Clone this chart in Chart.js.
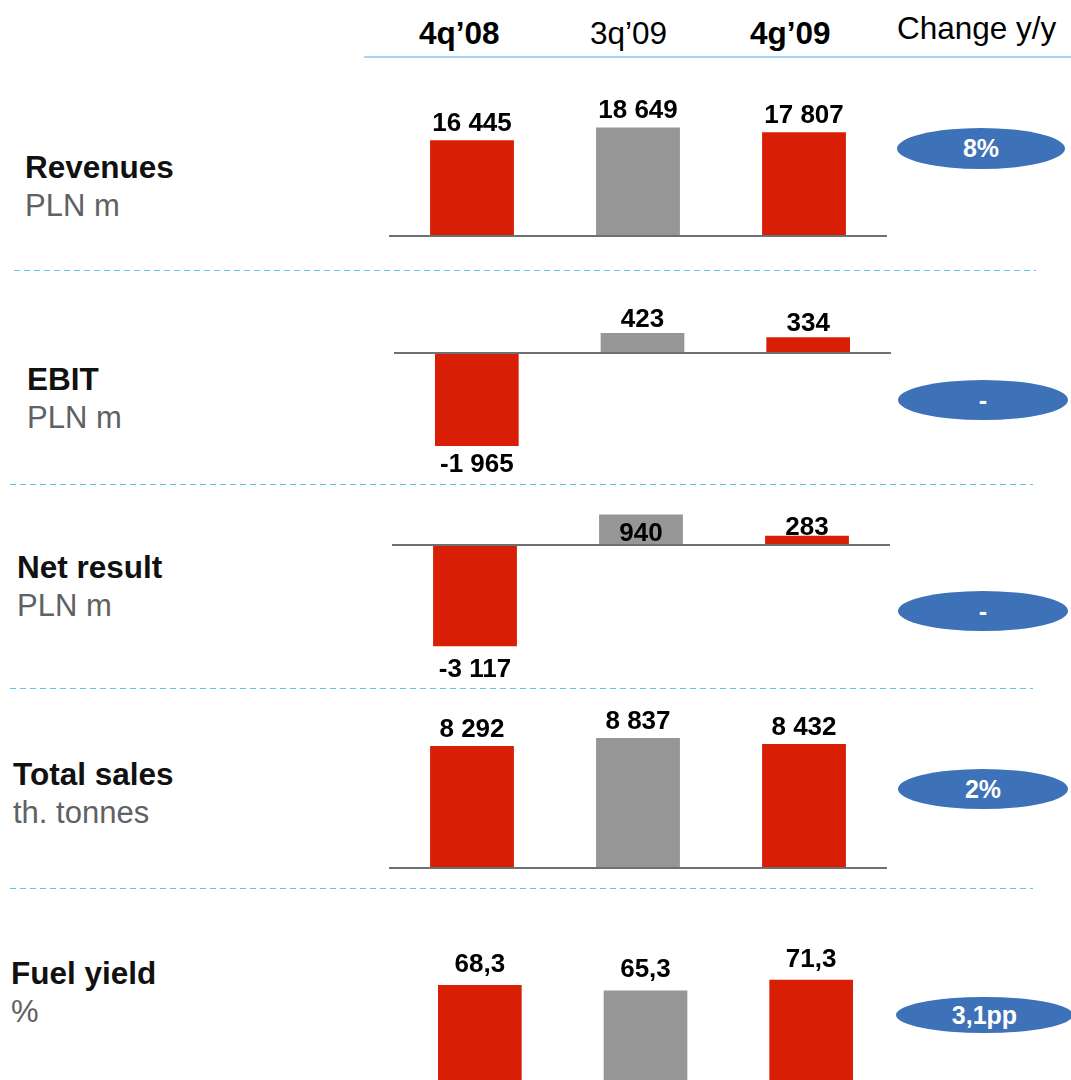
<!DOCTYPE html>
<html>
<head>
<meta charset="utf-8">
<script src="https://cdn.jsdelivr.net/npm/chart.js@4"></script>
<style>
  html, body { margin: 0; padding: 0; background: #fff; overflow: hidden; }
  #page { position: relative; width: 1071px; height: 1080px; overflow: hidden; font-family: "Liberation Sans", Arial, sans-serif; }
  .abs { position: absolute; white-space: nowrap; }
  .hdr { font-size: 31.5px; color: #000; line-height: 1; }
  .hdr.b { font-weight: bold; }
  .title { font-size: 31.5px; font-weight: bold; color: #111; line-height: 1; }
  .unit { font-size: 31px; color: #5e6265; line-height: 1; }
  .sep { position: absolute; height: 1px;
         background: repeating-linear-gradient(to right, #62c4e6 0 6px, transparent 6px 10px); }
  .pill { position: absolute; background: #3d71b8; border-radius: 50%; color: #fff;
          font-weight: bold; font-size: 25px; display: flex; align-items: center; justify-content: center; }
  canvas { position: absolute; }
</style>
</head>
<body>
<div id="page"></div>
<script>
// Quarter labels across the top
const periods = ["4q\u201908", "3q\u201909", "4g\u201909"];

// Metric values per quarter
const revenues   = [16445, 18649, 17807];
const ebit       = [-1965, 423, 334];
const netResult  = [-3117, 940, 283];
const totalSales = [8292, 8837, 8432];
const fuelYield  = [68.3, 65.3, 71.3];

// Year-on-year change badges
const changes = ["8%", "-", "-", "2%", "3,1pp"];

const RED = "#d81e05", GREY = "#969696";
const barColors = [RED, GREY, RED];

const page = document.getElementById("page");
function el(cls, text, css) {
  const d = document.createElement("div");
  d.className = cls;
  if (text !== null) d.textContent = text;
  Object.assign(d.style, css);
  page.appendChild(d);
  return d;
}

// header row
el("abs hdr b", periods[0], { left: "419px", top: "18px" });
el("abs hdr",   periods[1], { left: "590px", top: "18px" });
el("abs hdr b", periods[2], { left: "750px", top: "18px" });
el("abs hdr",   "Change y/y", { left: "897px", top: "13px" });
el("abs", null, { left: "364px", top: "56px", width: "707px", height: "2px", background: "#a9d3f3" });

// dashed separators
[[270, 14, 1036], [484, 10, 1033], [688, 10, 1033], [888, 10, 1033]].forEach(([y, x0, x1]) => {
  el("sep", null, { left: x0 + "px", top: y + "px", width: (x1 - x0) + "px" });
});

// panel definitions: labels, data and scale windows
const panels = [
  { title: "Revenues",    unit: "PLN m",      tx: 25, ty: 152, data: revenues,
    left: 389, right: 887, top: 60,  bottom: 250, min: -2405, max: 30240, gap: 9, zeroLine: true },
  { title: "EBIT",        unit: "PLN m",      tx: 27, ty: 364, data: ebit,
    left: 394, right: 891, top: 280, bottom: 480, min: -2685, max: 1543, gap: 6, zeroLine: true },
  { title: "Net result",  unit: "PLN m",      tx: 17, ty: 552, data: netResult, inside: [false, true, false],
    left: 392, right: 890, top: 495, bottom: 685, min: -4308, max: 1538, gap: 11, zeroLine: true },
  { title: "Total sales", unit: "th. tonnes", tx: 13, ty: 759, data: totalSales,
    left: 389, right: 887, top: 695, bottom: 880, min: -816, max: 11769, gap: 9, zeroLine: true },
  { title: "Fuel yield",  unit: "%",          tx: 11, ty: 958, data: fuelYield, decimals: 1,
    left: 397, right: 894, top: 895, bottom: 1080, min: 15.56, max: 118.3, gap: 13, zeroLine: false }
];
const pillPos = [[897, 128, 168, 41], [898, 380, 170, 40], [898, 591, 170, 40], [898, 769, 170, 40], [896, 997, 177, 36]];

function fmt(v, decimals) {
  const neg = v < 0;
  let s = Math.abs(v).toFixed(decimals || 0);
  let [ip, dp] = s.split(".");
  ip = ip.replace(/\B(?=(\d{3})+(?!\d))/g, " ");
  return (neg ? "-" : "") + ip + (dp ? "," + dp : "");
}

// draws the zero baseline and the value labels
const panelDecor = {
  id: "panelDecor",
  afterDatasetsDraw(chart, args, opts) {
    const { ctx, chartArea, scales } = chart;
    const zy = scales.y.getPixelForValue(0);
    if (opts.zeroLine) {
      ctx.save();
      ctx.strokeStyle = "#6d7174";
      ctx.lineWidth = 2;
      ctx.beginPath();
      ctx.moveTo(chartArea.left, zy);
      ctx.lineTo(chartArea.right, zy);
      ctx.stroke();
      ctx.restore();
    }
    ctx.save();
    ctx.font = "bold 26px 'Liberation Sans', Arial, sans-serif";
    ctx.fillStyle = "#000";
    ctx.textAlign = "center";
    const meta = chart.getDatasetMeta(0);
    meta.data.forEach((bar, i) => {
      const v = chart.data.datasets[0].data[i];
      const txt = fmt(v, opts.decimals);
      const inside = opts.inside && opts.inside[i];
      if (inside) {
        ctx.textBaseline = "alphabetic";
        ctx.fillText(txt, bar.x, zy - 4);
      } else if (v >= 0) {
        ctx.textBaseline = "alphabetic";
        const g = opts.inside ? 1 : opts.gap;
        ctx.fillText(txt, bar.x, bar.y - g);
      } else {
        ctx.textBaseline = "top";
        ctx.fillText(txt, bar.x, bar.y + opts.gap);
      }
    });
    ctx.restore();
  }
};

panels.forEach((p, idx) => {
  el("abs title", p.title, { left: p.tx + "px", top: p.ty + "px" });
  el("abs unit", p.unit, { left: p.tx + "px", top: (p.ty + 38) + "px" });

  const [px, py, pw, ph] = pillPos[idx];
  el("pill", changes[idx], { left: px + "px", top: py + "px", width: pw + "px", height: ph + "px" });

  const cv = document.createElement("canvas");
  const w = p.right - p.left, h = p.bottom - p.top;
  cv.width = w; cv.height = h;
  cv.style.left = p.left + "px"; cv.style.top = p.top + "px";
  cv.style.width = w + "px"; cv.style.height = h + "px";
  page.appendChild(cv);

  new Chart(cv, {
    type: "bar",
    data: {
      labels: periods,
      datasets: [{ data: p.data, backgroundColor: barColors, borderWidth: 0,
                   barPercentage: 0.505, categoryPercentage: 1 }]
    },
    options: {
      responsive: false,
      animation: false,
      devicePixelRatio: 1,
      layout: { padding: 0 },
      plugins: {
        legend: { display: false },
        tooltip: { enabled: false },
        panelDecor: { zeroLine: p.zeroLine, gap: p.gap, inside: p.inside, decimals: p.decimals }
      },
      scales: {
        x: { display: false },
        y: { display: false, min: p.min, max: p.max }
      }
    },
    plugins: [panelDecor]
  });
});
</script>
</body>
</html>
